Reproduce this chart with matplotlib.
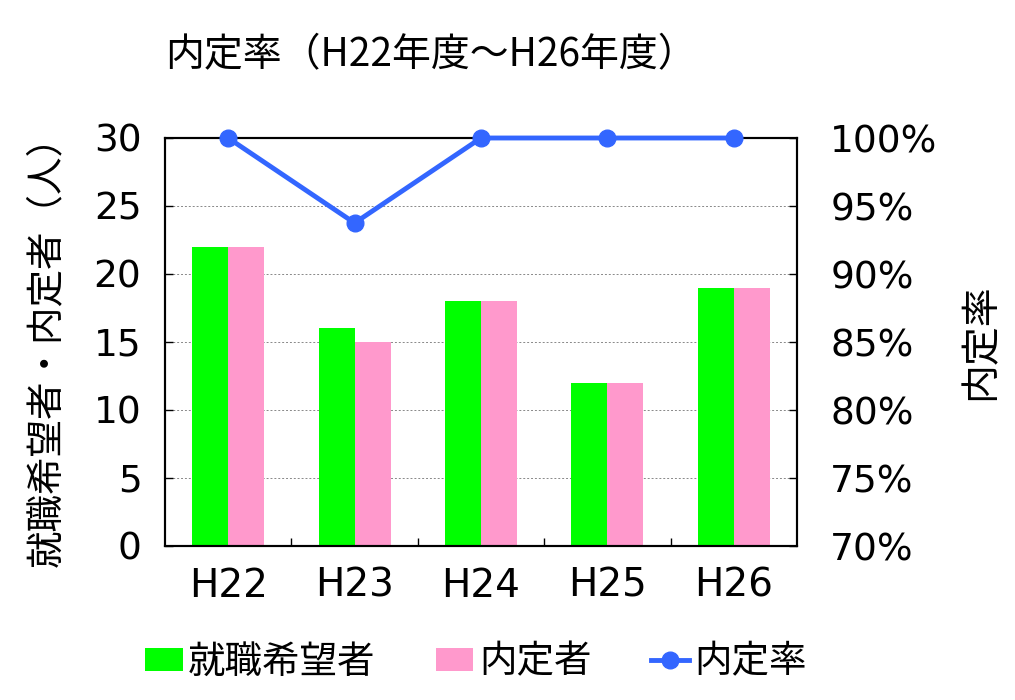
import numpy as np
import matplotlib.pyplot as plt
from matplotlib.ticker import FuncFormatter

plt.rcParams['font.family'] = ['Noto Sans CJK JP', 'DejaVu Sans']

# データ
years = ['H22', 'H23', 'H24', 'H25', 'H26']
applicants = [22, 16, 18, 12, 19]   # 就職希望者
offers = [22, 15, 18, 12, 19]       # 内定者
rate = [a / b for a, b in zip(offers, applicants)]  # 内定率

green = '#00ff00'
pink = '#ff99cc'
blue = '#3366ff'

fig = plt.figure(figsize=(10.15, 7), dpi=100)
ax = fig.add_axes([165 / 1015, 154 / 700, 632 / 1015, 408 / 700])

x = np.arange(len(years))
w = 0.285
b1 = ax.bar(x - w / 2, applicants, w, color=green, label='就職希望者', zorder=2)
b2 = ax.bar(x + w / 2, offers, w, color=pink, label='内定者', zorder=2)

ax.set_xlim(-0.5, len(years) - 0.5)
ax.set_ylim(0, 30)
ax.set_yticks(range(0, 31, 5))
ax.set_xticks(x)
ax.set_xticklabels(years, family='DejaVu Sans')
ax.set_xticks(np.arange(0.5, len(years) - 0.5, 1), minor=True)
ax.tick_params(axis='x', which='major', length=0, labelsize=28, pad=15)
ax.tick_params(axis='x', which='minor', direction='in', length=6, width=1)
ax.tick_params(axis='y', direction='in', length=6, width=1, labelsize=27, pad=17)
for lb in ax.get_yticklabels():
    lb.set_family('DejaVu Sans')
ax.yaxis.grid(True, linestyle=(0, (2, 2)), color='#888888', linewidth=0.7, zorder=0)
ax.set_axisbelow(True)
for s in ax.spines.values():
    s.set_linewidth(1.5)
ax.set_ylabel('就職希望者・内定者（人）', fontsize=27, labelpad=20)

ax2 = ax.twinx()
l1, = ax2.plot(x, rate, color=blue, linewidth=3.5, marker='o', markersize=12,
               label='内定率', zorder=3, clip_on=False)
ax2.set_ylim(0.7, 1.0)
ax2.set_yticks(np.arange(0.70, 1.001, 0.05))
ax2.yaxis.set_major_formatter(FuncFormatter(lambda v, p: f'{v * 100:.0f}%'))
ax2.tick_params(axis='y', direction='in', length=6, width=1, labelsize=27, pad=24)
for lb in ax2.get_yticklabels():
    lb.set_family('DejaVu Sans')
ax2.set_ylabel('内定率', fontsize=28, labelpad=16)
for s in ax2.spines.values():
    s.set_linewidth(1.5)

fig.text(165 / 1015, 1 - 55 / 700, '内定率（H22年度～H26年度）', fontsize=28, va='center')

fig.legend([b1, b2, l1], ['就職希望者', '内定者', '内定率'], loc='center',
           bbox_to_anchor=(0.469, 1 - 662 / 700), ncol=3, frameon=False,
           fontsize=27, handlelength=1.0, handleheight=0.55,
           handletextpad=0.15, columnspacing=1.6)

fig.savefig('out.png', dpi=100)
